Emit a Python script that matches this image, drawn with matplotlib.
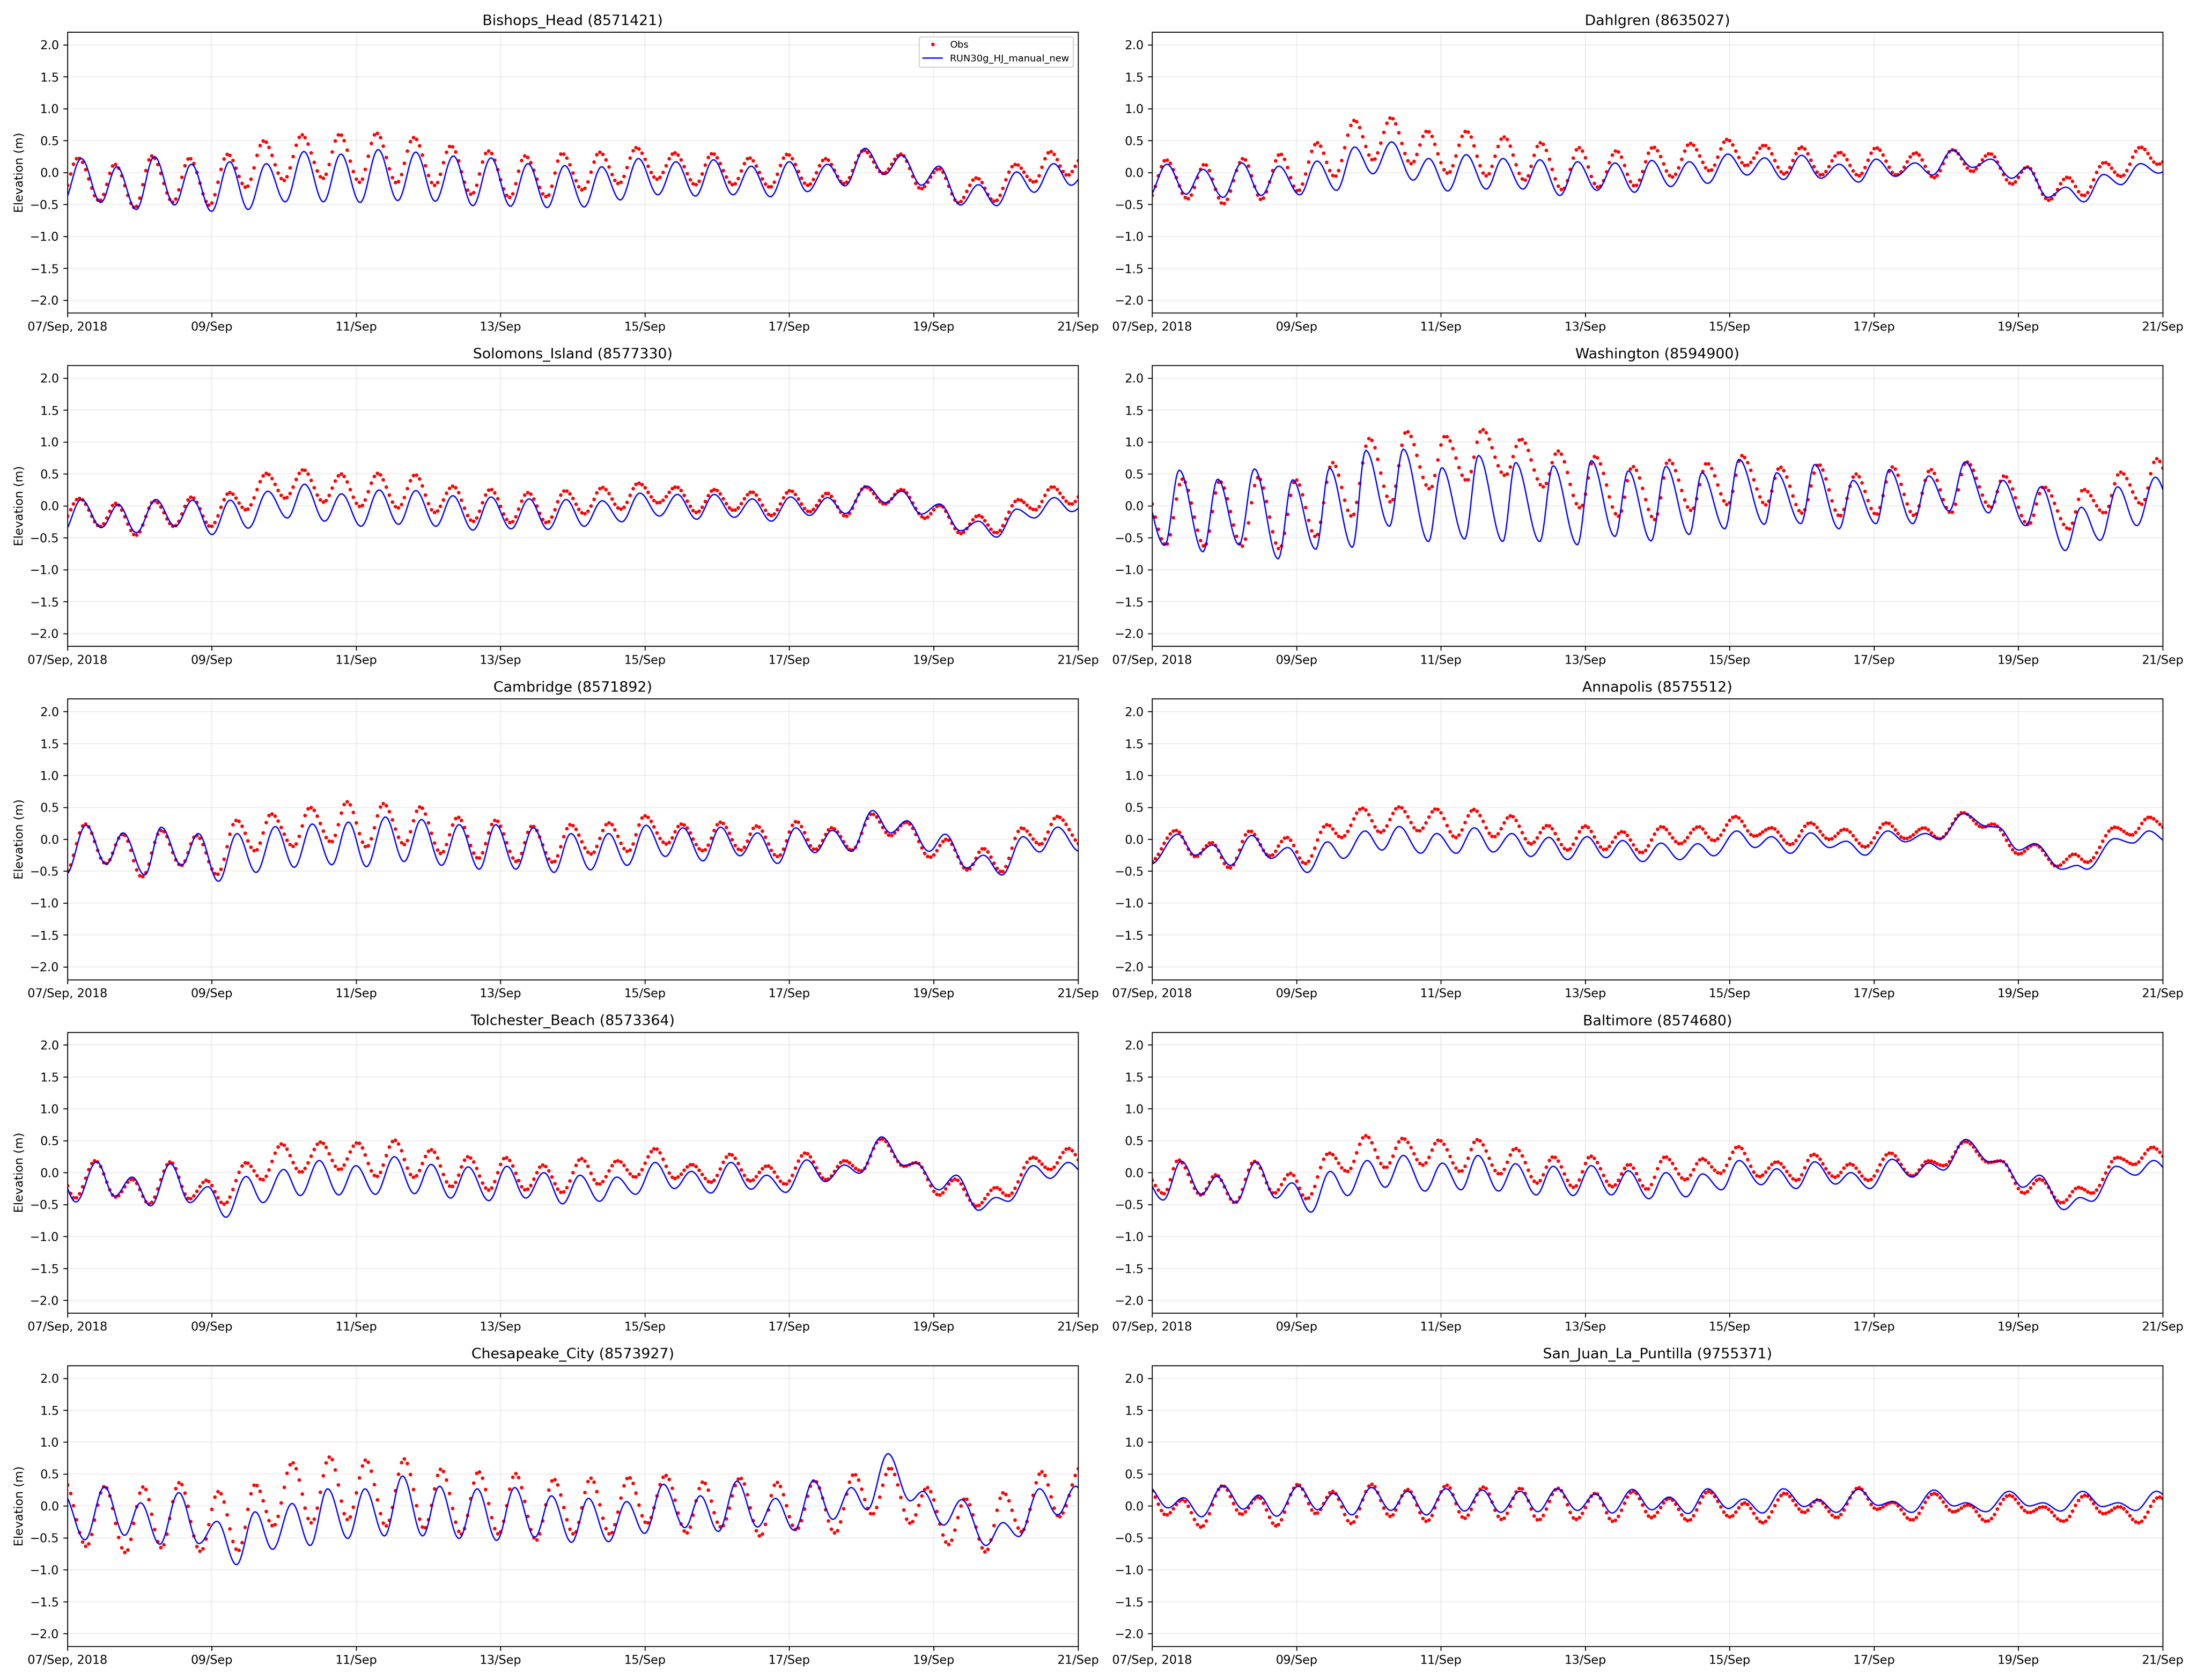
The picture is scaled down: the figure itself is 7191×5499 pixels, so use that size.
import numpy as np
import matplotlib
matplotlib.use("Agg")
import matplotlib.pyplot as plt

# ---------------- data (hours after 07/Sep/2018 00:00, elevation in m) ----------------
# values are the successive high / low water points
stations = ["Bishops_Head (8571421)", "Dahlgren (8635027)", "Solomons_Island (8577330)",
            "Washington (8594900)", "Cambridge (8571892)", "Annapolis (8575512)",
            "Tolchester_Beach (8573364)", "Baltimore (8574680)", "Chesapeake_City (8573927)",
            "San_Juan_La_Puntilla (9755371)"]
series_labels = ["Obs", "RUN30g_HJ_manual_new"]
tick_labels = ["07/Sep, 2018", "09/Sep", "11/Sep", "13/Sep", "15/Sep", "17/Sep", "19/Sep", "21/Sep"]

bh_mod_t = [-1.5, 4.6, 11.1, 16.4, 22.9, 28.9, 35.6, 41.2, 47.9, 53.9, 60.1, 66.1, 72.4, 78.6, 85.1, 90.9, 97.3, 103.3, 109.8, 115.8, 122.3, 128.3, 134.8, 140.8, 147.3, 153.1, 159.5, 165.3, 171.8, 177.6, 183.8, 189.8, 196.3, 202.3, 208.8, 214.8, 221.3, 227.3, 233.7, 240.0, 246.0, 252.7, 258.5, 265.2, 271.7, 277.4, 283.9, 289.7, 296.9, 302.9, 308.9, 315.6, 321.4, 327.9, 333.7, 340.0]
bh_mod_v = [-0.47, 0.22, -0.47, 0.09, -0.58, 0.25, -0.51, 0.13, -0.61, 0.17, -0.58, 0.14, -0.46, 0.33, -0.46, 0.29, -0.47, 0.36, -0.44, 0.32, -0.45, 0.26, -0.52, 0.23, -0.53, 0.14, -0.55, 0.11, -0.54, 0.09, -0.43, 0.22, -0.35, 0.17, -0.37, 0.20, -0.35, 0.10, -0.38, 0.17, -0.30, 0.13, -0.21, 0.38, -0.03, 0.27, -0.20, 0.10, -0.51, -0.19, -0.52, 0.01, -0.31, 0.14, -0.20, 0.10]
bh_obs_t = [-2.5, 3.5, 10.6, 15.7, 22.4, 28.0, 35.1, 40.5, 47.2, 53.2, 59.4, 65.2, 71.9, 77.9, 84.9, 90.4, 97.1, 102.7, 109.4, 115.1, 122.1, 127.4, 134.3, 139.9, 147.0, 152.1, 159.3, 164.4, 171.3, 176.9, 183.3, 189.1, 196.1, 201.8, 208.8, 214.3, 221.3, 226.6, 233.5, 239.3, 246.2, 252.0, 258.2, 264.7, 271.2, 277.0, 283.7, 289.7, 296.2, 302.2, 308.2, 315.1, 321.4, 326.7, 332.5, 338.0]
bh_obs_v = [-0.45, 0.23, -0.44, 0.13, -0.55, 0.26, -0.46, 0.23, -0.51, 0.29, -0.23, 0.50, -0.12, 0.59, -0.09, 0.60, -0.15, 0.62, -0.16, 0.55, -0.20, 0.42, -0.34, 0.34, -0.39, 0.26, -0.38, 0.30, -0.27, 0.32, -0.17, 0.39, -0.10, 0.31, -0.19, 0.30, -0.19, 0.23, -0.23, 0.29, -0.20, 0.22, -0.17, 0.35, -0.01, 0.29, -0.25, 0.06, -0.47, -0.08, -0.45, 0.13, -0.15, 0.33, -0.04, 0.28]

dg_mod_t = [-1.5, 4.9, 11.3, 16.9, 23.6, 29.8, 36.3, 42.1, 49.1, 54.8, 61.3, 67.3, 73.4, 79.6, 86.8, 91.9, 98.3, 104.4, 111.1, 116.6, 123.3, 128.9, 135.6, 141.4, 147.9, 153.9, 160.4, 166.1, 172.4, 178.6, 184.7, 191.4, 197.8, 203.6, 209.9, 215.9, 222.4, 228.4, 234.9, 240.7, 247.1, 253.6, 259.4, 266.1, 272.8, 278.8, 285.8, 290.9, 297.8, 303.8, 309.8, 316.3, 322.1, 328.6, 334.6, 340.6]
dg_mod_v = [-0.40, 0.13, -0.34, 0.05, -0.39, 0.15, -0.36, 0.10, -0.35, 0.18, -0.28, 0.40, -0.02, 0.48, -0.12, 0.22, -0.29, 0.28, -0.26, 0.22, -0.26, 0.20, -0.36, 0.17, -0.28, 0.15, -0.31, 0.19, -0.22, 0.17, -0.17, 0.29, -0.04, 0.23, -0.11, 0.27, -0.09, 0.13, -0.15, 0.21, -0.06, 0.15, -0.04, 0.35, 0.08, 0.21, -0.09, 0.08, -0.39, -0.23, -0.46, -0.03, -0.19, 0.14, -0.01, 0.14]
dg_obs_t = [-1.5, 4.6, 11.8, 17.4, 23.6, 30.3, 36.3, 42.6, 48.4, 54.8, 60.6, 67.3, 73.4, 79.4, 86.1, 91.4, 98.3, 104.4, 111.1, 116.9, 123.8, 129.1, 136.3, 141.8, 148.3, 154.3, 160.4, 166.6, 172.9, 178.9, 185.4, 191.1, 197.4, 203.6, 210.1, 215.9, 222.4, 228.6, 234.9, 240.7, 247.4, 253.8, 259.9, 266.1, 272.6, 278.4, 285.8, 290.9, 298.0, 304.3, 309.6, 316.6, 322.1, 328.6, 334.4, 340.0]
dg_obs_v = [-0.45, 0.20, -0.41, 0.13, -0.49, 0.22, -0.42, 0.29, -0.29, 0.47, -0.06, 0.82, 0.20, 0.86, 0.14, 0.65, -0.01, 0.65, -0.05, 0.56, -0.12, 0.47, -0.27, 0.39, -0.23, 0.34, -0.21, 0.40, -0.07, 0.46, 0.03, 0.52, 0.11, 0.43, -0.02, 0.40, -0.04, 0.32, -0.05, 0.39, -0.04, 0.31, -0.08, 0.36, 0.02, 0.30, -0.18, 0.09, -0.43, -0.07, -0.36, 0.16, -0.06, 0.40, 0.13, 0.35]

si_mod_t = [-1.5, 4.6, 11.3, 16.9, 22.9, 29.4, 35.8, 41.6, 48.1, 54.1, 60.1, 66.6, 73.1, 78.8, 85.5, 91.1, 97.6, 103.6, 110.1, 115.8, 122.5, 128.1, 134.8, 140.8, 147.5, 153.5, 159.8, 165.8, 171.8, 177.8, 184.3, 190.3, 196.8, 202.8, 209.2, 215.0, 221.7, 227.7, 234.0, 240.4, 246.7, 252.7, 258.7, 265.7, 271.9, 277.4, 283.9, 289.9, 296.9, 302.9, 308.9, 315.6, 321.4, 328.1, 333.9, 340.0]
si_mod_v = [-0.42, 0.10, -0.34, 0.02, -0.42, 0.10, -0.32, 0.09, -0.45, 0.09, -0.35, 0.23, -0.19, 0.34, -0.24, 0.19, -0.32, 0.25, -0.29, 0.24, -0.32, 0.16, -0.38, 0.14, -0.36, 0.11, -0.37, 0.10, -0.32, 0.08, -0.25, 0.20, -0.16, 0.18, -0.21, 0.18, -0.18, 0.11, -0.24, 0.14, -0.15, 0.13, -0.12, 0.31, 0.05, 0.23, -0.13, 0.03, -0.39, -0.24, -0.49, -0.05, -0.19, 0.13, -0.09, 0.10]
si_obs_t = [-2.5, 3.9, 10.9, 16.0, 22.7, 28.9, 35.4, 41.2, 47.6, 53.9, 59.4, 66.1, 72.4, 78.4, 85.1, 90.9, 97.3, 103.1, 109.8, 115.6, 122.1, 128.1, 134.8, 140.6, 147.3, 153.1, 159.3, 165.5, 171.8, 177.8, 184.0, 189.8, 196.5, 202.3, 209.2, 215.0, 221.5, 227.5, 234.0, 240.2, 246.7, 252.5, 258.7, 265.2, 271.7, 277.2, 285.1, 289.9, 296.9, 302.9, 308.7, 316.1, 321.6, 327.4, 333.7, 339.0]
si_obs_v = [-0.30, 0.12, -0.32, 0.04, -0.46, 0.08, -0.32, 0.14, -0.32, 0.21, -0.06, 0.51, 0.12, 0.57, 0.06, 0.50, -0.01, 0.51, -0.03, 0.49, -0.10, 0.31, -0.24, 0.26, -0.26, 0.21, -0.26, 0.24, -0.12, 0.29, -0.05, 0.36, 0.05, 0.30, -0.10, 0.26, -0.07, 0.22, -0.15, 0.24, -0.09, 0.20, -0.16, 0.30, 0.03, 0.26, -0.19, 0.01, -0.43, -0.15, -0.42, 0.10, -0.06, 0.30, 0.03, 0.32]

wa_mod_t = [-4.5, 4.2, 9.0, 16.9, 21.8, 28.9, 34.0, 41.9, 46.7, 54.4, 59.0, 66.6, 71.0, 78.9, 83.5, 91.9, 96.3, 103.9, 108.5, 116.6, 120.8, 128.9, 133.3, 141.4, 146.0, 153.9, 158.3, 165.9, 170.8, 178.6, 182.8, 190.4, 195.1, 203.6, 207.6, 215.7, 220.3, 228.4, 233.0, 240.7, 245.1, 252.9, 258.2, 265.0, 270.3, 278.1, 282.8, 290.4, 295.5, 303.6, 308.9, 315.2, 321.0, 327.4, 333.5, 341.0]
wa_mod_v = [0.50, -0.62, 0.56, -0.72, 0.42, -0.61, 0.58, -0.83, 0.41, -0.68, 0.59, -0.65, 0.87, -0.32, 0.89, -0.56, 0.60, -0.52, 0.79, -0.56, 0.68, -0.56, 0.63, -0.61, 0.71, -0.48, 0.55, -0.55, 0.62, -0.45, 0.52, -0.36, 0.73, -0.29, 0.52, -0.28, 0.65, -0.36, 0.40, -0.28, 0.57, -0.28, 0.47, -0.08, 0.69, -0.11, 0.40, -0.31, 0.30, -0.70, -0.02, -0.54, 0.30, -0.31, 0.45, -0.30]
wa_obs_t = [-3.5, 4.6, 10.0, 17.4, 22.4, 29.9, 35.2, 42.3, 47.7, 54.4, 59.9, 66.4, 72.2, 79.4, 84.5, 92.3, 97.4, 104.6, 109.7, 117.3, 122.6, 130.0, 134.9, 142.3, 147.2, 155.0, 159.7, 167.1, 171.7, 179.3, 184.4, 191.4, 196.0, 204.1, 208.7, 216.1, 221.5, 228.6, 233.9, 240.7, 246.0, 253.4, 258.7, 265.6, 270.7, 278.8, 283.2, 291.3, 296.4, 304.8, 309.6, 316.6, 321.9, 329.0, 333.9, 341.0]
wa_obs_v = [0.45, -0.61, 0.42, -0.63, 0.39, -0.63, 0.45, -0.67, 0.41, -0.48, 0.68, -0.16, 1.06, 0.06, 1.17, 0.27, 1.10, 0.40, 1.20, 0.48, 1.05, 0.30, 0.86, -0.03, 0.78, -0.16, 0.62, -0.21, 0.72, -0.07, 0.67, 0.02, 0.79, 0.02, 0.61, -0.11, 0.65, -0.16, 0.50, -0.13, 0.61, -0.15, 0.57, -0.11, 0.69, -0.02, 0.47, -0.29, 0.30, -0.36, 0.26, -0.11, 0.53, 0.03, 0.74, 0.00]

cb_mod_t = [-0.5, 6.2, 12.9, 18.5, 25.7, 31.2, 37.9, 43.5, 50.2, 56.4, 62.7, 69.1, 75.4, 81.4, 87.9, 93.4, 99.4, 105.7, 111.9, 117.7, 124.4, 130.2, 136.9, 142.4, 149.1, 154.9, 161.8, 167.4, 173.9, 179.9, 186.1, 192.4, 198.8, 204.6, 211.3, 217.1, 223.6, 229.4, 236.1, 242.1, 248.5, 254.3, 260.6, 267.7, 273.7, 279.1, 286.5, 291.8, 299.0, 304.5, 310.7, 317.7, 323.2, 329.2, 336.5]
cb_mod_v = [-0.55, 0.22, -0.39, 0.10, -0.56, 0.19, -0.41, 0.09, -0.66, 0.09, -0.52, 0.20, -0.44, 0.24, -0.40, 0.27, -0.43, 0.35, -0.35, 0.31, -0.41, 0.23, -0.47, 0.23, -0.47, 0.18, -0.52, 0.09, -0.48, 0.09, -0.41, 0.22, -0.27, 0.18, -0.34, 0.19, -0.26, 0.10, -0.38, 0.18, -0.21, 0.14, -0.19, 0.45, 0.10, 0.29, -0.19, 0.08, -0.45, -0.25, -0.56, 0.04, -0.20, 0.19, -0.19]
cb_obs_t = [-0.5, 5.8, 12.7, 18.3, 24.7, 31.2, 37.7, 42.8, 49.7, 56.2, 62.4, 67.7, 75.1, 80.7, 87.6, 92.9, 99.4, 105.0, 111.9, 117.2, 124.2, 129.7, 136.6, 142.2, 149.4, 154.4, 161.4, 167.2, 174.1, 179.9, 186.3, 191.9, 199.1, 204.2, 211.3, 217.1, 223.8, 229.1, 236.1, 242.3, 248.5, 254.1, 260.8, 267.5, 273.5, 278.8, 286.7, 292.2, 299.2, 304.5, 310.5, 317.2, 323.4, 329.0, 337.5]
cb_obs_v = [-0.50, 0.24, -0.38, 0.08, -0.59, 0.14, -0.41, 0.06, -0.55, 0.30, -0.18, 0.40, -0.11, 0.50, -0.04, 0.59, -0.12, 0.56, -0.08, 0.51, -0.22, 0.35, -0.30, 0.30, -0.35, 0.21, -0.36, 0.23, -0.23, 0.26, -0.19, 0.37, -0.07, 0.24, -0.18, 0.27, -0.17, 0.21, -0.27, 0.28, -0.16, 0.18, -0.17, 0.40, 0.06, 0.27, -0.28, 0.00, -0.48, -0.14, -0.51, 0.18, -0.08, 0.36, -0.10]

an_mod_t = [-0.5, 8.6, 14.3, 20.1, 26.1, 33.1, 39.6, 45.1, 51.6, 58.3, 63.6, 70.8, 76.4, 82.1, 89.3, 94.6, 101.1, 107.1, 113.4, 119.6, 125.9, 131.9, 138.1, 144.6, 150.9, 156.4, 163.1, 169.2, 175.4, 181.4, 186.7, 194.4, 200.4, 205.9, 212.2, 218.9, 225.2, 230.7, 237.0, 244.6, 250.4, 257.1, 261.7, 269.8, 277.7, 281.2, 288.1, 293.4, 302.4, 307.5, 310.8, 320.0, 326.0, 331.4, 338.0]
an_mod_v = [-0.39, 0.08, -0.25, -0.09, -0.41, 0.06, -0.30, -0.13, -0.52, -0.04, -0.30, 0.13, -0.17, 0.20, -0.22, 0.09, -0.22, 0.18, -0.20, 0.09, -0.27, 0.03, -0.32, 0.04, -0.29, -0.02, -0.35, -0.06, -0.32, -0.07, -0.26, 0.13, -0.13, 0.04, -0.22, 0.10, -0.13, -0.03, -0.25, 0.13, -0.04, 0.09, 0.00, 0.40, 0.20, 0.19, -0.17, -0.07, -0.47, -0.41, -0.47, 0.01, -0.06, 0.13, -0.05]
an_obs_t = [-1.0, 7.9, 14.3, 19.7, 25.7, 32.4, 39.1, 44.7, 50.9, 58.1, 62.9, 69.9, 75.9, 82.1, 88.6, 94.4, 100.9, 106.9, 113.6, 119.2, 125.9, 131.4, 138.1, 143.9, 150.4, 156.2, 162.7, 169.4, 175.4, 181.6, 186.7, 193.9, 200.2, 205.9, 212.2, 218.7, 225.2, 230.2, 237.0, 244.1, 250.4, 256.6, 261.7, 269.6, 276.1, 279.5, 288.1, 293.4, 300.8, 306.6, 310.8, 320.0, 325.6, 331.4, 338.0]
an_obs_v = [-0.36, 0.14, -0.27, -0.05, -0.45, 0.13, -0.26, 0.03, -0.38, 0.23, 0.03, 0.49, 0.11, 0.51, 0.13, 0.48, 0.03, 0.47, 0.04, 0.37, -0.07, 0.22, -0.17, 0.21, -0.16, 0.12, -0.21, 0.20, -0.07, 0.20, -0.02, 0.36, 0.05, 0.18, -0.08, 0.26, 0.00, 0.16, -0.12, 0.26, 0.01, 0.18, 0.01, 0.42, 0.19, 0.24, -0.23, -0.08, -0.42, -0.23, -0.36, 0.19, 0.07, 0.35, 0.15]

tb_mod_t = [-4.0, 2.8, 9.7, 15.7, 21.5, 27.7, 34.2, 40.7, 46.7, 52.7, 59.4, 65.0, 71.9, 77.4, 83.7, 90.2, 95.9, 102.4, 108.7, 115.4, 120.9, 127.4, 133.2, 140.1, 146.1, 152.4, 158.4, 164.6, 170.4, 176.9, 182.6, 188.9, 195.4, 201.8, 207.4, 213.9, 220.6, 227.3, 232.4, 238.8, 245.8, 252.0, 258.3, 263.3, 270.7, 278.1, 282.1, 289.7, 295.5, 302.9, 308.7, 312.8, 321.1, 326.7, 332.7, 339.0]
tb_mod_v = [0.15, -0.46, 0.17, -0.37, -0.07, -0.52, 0.14, -0.47, -0.22, -0.70, -0.06, -0.47, 0.05, -0.36, 0.19, -0.35, 0.11, -0.34, 0.25, -0.33, 0.13, -0.40, 0.09, -0.44, 0.10, -0.40, 0.00, -0.49, -0.04, -0.45, -0.07, -0.34, 0.16, -0.25, 0.02, -0.32, 0.16, -0.26, -0.04, -0.31, 0.20, -0.14, 0.12, -0.01, 0.56, 0.11, 0.15, -0.27, -0.04, -0.59, -0.39, -0.45, 0.11, -0.09, 0.16, -0.05]
tb_obs_t = [-4.0, 2.5, 9.2, 16.0, 21.5, 27.1, 34.2, 40.5, 46.2, 52.0, 59.4, 64.7, 71.2, 77.5, 84.2, 90.4, 96.4, 102.7, 108.7, 115.1, 120.9, 127.6, 133.2, 140.1, 145.7, 152.4, 158.1, 164.4, 170.9, 176.6, 182.9, 188.7, 195.4, 201.8, 207.6, 213.9, 220.3, 227.0, 232.6, 238.6, 245.3, 252.2, 258.3, 263.8, 270.5, 278.1, 282.1, 289.7, 295.0, 302.2, 308.7, 312.6, 320.9, 326.7, 332.7, 339.0]
tb_obs_v = [0.20, -0.40, 0.19, -0.38, -0.10, -0.49, 0.17, -0.41, -0.12, -0.49, 0.16, -0.11, 0.45, 0.01, 0.48, 0.05, 0.47, -0.06, 0.51, -0.07, 0.36, -0.22, 0.25, -0.27, 0.24, -0.27, 0.12, -0.31, 0.22, -0.18, 0.19, -0.07, 0.38, -0.09, 0.13, -0.15, 0.29, -0.13, 0.11, -0.18, 0.31, -0.11, 0.19, 0.03, 0.53, 0.10, 0.16, -0.35, -0.10, -0.52, -0.23, -0.36, 0.24, 0.05, 0.38, 0.05]

ba_mod_t = [-5.0, 3.7, 9.7, 16.4, 21.5, 27.8, 34.5, 41.2, 46.5, 52.8, 59.2, 65.0, 71.5, 77.5, 83.5, 90.7, 96.5, 102.7, 108.3, 115.2, 120.8, 127.7, 133.3, 140.0, 146.0, 152.7, 158.3, 165.2, 170.8, 177.5, 183.0, 189.3, 195.1, 202.5, 207.6, 214.1, 220.3, 227.2, 232.3, 238.6, 246.0, 252.7, 258.2, 263.1, 270.5, 278.4, 282.3, 289.5, 295.0, 303.1, 308.5, 312.4, 320.5, 326.9, 333.0, 339.5]
ba_mod_v = [0.15, -0.43, 0.18, -0.34, -0.06, -0.47, 0.17, -0.40, -0.16, -0.62, 0.02, -0.36, 0.19, -0.23, 0.27, -0.29, 0.15, -0.27, 0.27, -0.29, 0.14, -0.35, 0.10, -0.36, 0.11, -0.35, 0.03, -0.41, 0.00, -0.38, -0.02, -0.27, 0.19, -0.19, 0.06, -0.25, 0.17, -0.18, 0.00, -0.25, 0.21, -0.07, 0.15, 0.04, 0.52, 0.17, 0.18, -0.23, -0.04, -0.58, -0.39, -0.45, 0.10, -0.04, 0.19, -0.05]
ba_obs_t = [-4.0, 3.9, 8.6, 16.2, 21.1, 27.5, 34.0, 40.5, 46.0, 51.4, 58.8, 64.8, 71.0, 77.5, 83.3, 90.0, 95.3, 102.5, 108.1, 115.5, 120.8, 128.0, 133.3, 140.2, 145.8, 153.0, 158.5, 164.5, 170.5, 177.3, 182.8, 188.8, 194.8, 201.8, 207.6, 214.3, 219.8, 227.0, 231.9, 238.1, 245.3, 252.7, 258.0, 263.1, 270.3, 278.1, 282.1, 289.9, 295.0, 302.4, 308.0, 312.4, 320.9, 326.5, 332.5, 339.0]
ba_obs_v = [0.10, -0.33, 0.20, -0.35, -0.03, -0.47, 0.18, -0.32, -0.01, -0.41, 0.31, 0.02, 0.58, 0.08, 0.54, 0.12, 0.51, 0.02, 0.52, -0.02, 0.38, -0.16, 0.25, -0.23, 0.26, -0.22, 0.13, -0.26, 0.25, -0.11, 0.22, -0.01, 0.41, -0.06, 0.17, -0.12, 0.29, -0.07, 0.14, -0.12, 0.31, -0.05, 0.19, 0.11, 0.49, 0.16, 0.19, -0.32, -0.10, -0.47, -0.23, -0.32, 0.24, 0.13, 0.40, 0.15]

cc_mod_t = [-1.5, 5.8, 12.3, 19.0, 24.3, 30.7, 37.0, 43.7, 49.7, 56.2, 62.4, 68.2, 74.7, 80.7, 86.5, 93.2, 98.9, 105.4, 111.4, 118.1, 123.7, 130.2, 136.2, 142.7, 148.7, 155.4, 160.9, 167.6, 173.2, 179.9, 185.9, 191.9, 198.1, 205.3, 210.4, 216.4, 222.6, 229.4, 235.4, 241.6, 248.1, 254.5, 260.6, 265.9, 272.8, 280.2, 284.4, 291.3, 297.3, 305.4, 311.0, 316.3, 323.2, 329.2, 335.2, 342.0]
cc_mod_v = [0.20, -0.53, 0.30, -0.46, 0.05, -0.60, 0.21, -0.59, -0.24, -0.92, -0.09, -0.68, 0.04, -0.62, 0.27, -0.51, 0.27, -0.47, 0.47, -0.47, 0.31, -0.51, 0.27, -0.54, 0.29, -0.49, 0.16, -0.57, 0.12, -0.56, 0.07, -0.43, 0.34, -0.34, 0.16, -0.40, 0.39, -0.33, 0.12, -0.38, 0.40, -0.21, 0.29, -0.06, 0.82, 0.08, 0.23, -0.30, 0.10, -0.62, -0.26, -0.48, 0.27, -0.14, 0.31, -0.30]
cc_obs_t = [-1.0, 6.2, 12.3, 19.2, 25.2, 31.2, 37.2, 44.2, 50.2, 56.7, 62.4, 68.4, 74.7, 81.1, 87.2, 93.2, 99.2, 105.9, 111.9, 118.6, 124.2, 130.9, 136.6, 143.3, 148.9, 155.8, 161.6, 168.3, 173.9, 180.3, 186.6, 192.6, 198.8, 205.8, 211.3, 217.3, 223.6, 230.3, 235.8, 242.3, 248.3, 255.2, 261.5, 267.5, 273.5, 280.2, 285.8, 292.9, 298.5, 305.2, 311.2, 317.2, 323.9, 329.7, 337.0]
cc_obs_v = [0.38, -0.63, 0.31, -0.73, 0.30, -0.65, 0.37, -0.71, 0.23, -0.70, 0.34, -0.31, 0.68, -0.26, 0.77, -0.21, 0.72, -0.31, 0.74, -0.35, 0.58, -0.44, 0.54, -0.44, 0.51, -0.53, 0.42, -0.44, 0.44, -0.44, 0.45, -0.27, 0.48, -0.42, 0.38, -0.33, 0.44, -0.47, 0.37, -0.37, 0.40, -0.42, 0.50, -0.13, 0.60, -0.27, 0.29, -0.60, 0.12, -0.72, 0.21, -0.40, 0.54, -0.17, 0.62]

sj_mod_t = [-1.5, 5.3, 10.4, 16.4, 23.6, 30.3, 35.4, 41.4, 48.6, 55.1, 60.4, 66.4, 72.9, 79.4, 84.9, 91.2, 97.7, 103.9, 109.7, 115.9, 122.4, 128.2, 134.7, 141.4, 147.4, 152.9, 159.7, 166.1, 171.9, 178.2, 184.7, 191.6, 196.7, 202.9, 209.9, 216.8, 221.4, 227.5, 234.9, 241.3, 246.2, 252.5, 259.9, 266.6, 270.5, 277.2, 284.9, 291.6, 296.2, 302.0, 309.4, 315.9, 321.2, 327.0, 333.9, 341.0]
sj_mod_v = [0.31, -0.03, 0.13, -0.17, 0.32, -0.05, 0.17, -0.16, 0.31, -0.06, 0.20, -0.14, 0.29, -0.07, 0.23, -0.14, 0.27, -0.08, 0.25, -0.10, 0.23, -0.09, 0.27, -0.07, 0.19, -0.11, 0.26, -0.06, 0.14, -0.12, 0.27, -0.04, 0.11, -0.11, 0.27, -0.01, 0.10, -0.10, 0.26, 0.01, 0.07, -0.10, 0.25, 0.00, 0.05, -0.09, 0.23, 0.00, 0.05, -0.08, 0.23, -0.01, 0.05, -0.07, 0.23, -0.02]
sj_obs_t = [-1.5, 4.6, 10.0, 16.2, 23.4, 29.6, 35.2, 41.2, 48.4, 54.4, 59.9, 66.2, 72.9, 79.1, 84.9, 91.2, 97.9, 103.7, 110.1, 116.2, 122.4, 128.4, 134.9, 140.9, 147.4, 153.2, 159.9, 165.9, 171.9, 178.2, 184.9, 192.1, 196.9, 202.9, 210.3, 216.8, 221.2, 227.5, 234.9, 240.9, 246.2, 252.5, 259.9, 266.4, 271.4, 277.4, 284.9, 291.4, 296.2, 302.9, 310.1, 316.3, 321.6, 327.9, 334.8, 341.0]
sj_obs_v = [0.30, -0.14, 0.10, -0.33, 0.32, -0.13, 0.14, -0.31, 0.34, -0.12, 0.23, -0.27, 0.34, -0.16, 0.26, -0.24, 0.33, -0.19, 0.30, -0.21, 0.28, -0.22, 0.28, -0.21, 0.20, -0.24, 0.23, -0.18, 0.12, -0.23, 0.23, -0.17, 0.05, -0.26, 0.20, -0.10, 0.10, -0.18, 0.29, -0.05, 0.06, -0.22, 0.20, -0.09, 0.02, -0.24, 0.17, -0.10, -0.01, -0.24, 0.17, -0.12, -0.01, -0.26, 0.14, -0.10]

panel_data = [
    (bh_obs_t, bh_obs_v, bh_mod_t, bh_mod_v),
    (dg_obs_t, dg_obs_v, dg_mod_t, dg_mod_v),
    (si_obs_t, si_obs_v, si_mod_t, si_mod_v),
    (wa_obs_t, wa_obs_v, wa_mod_t, wa_mod_v),
    (cb_obs_t, cb_obs_v, cb_mod_t, cb_mod_v),
    (an_obs_t, an_obs_v, an_mod_t, an_mod_v),
    (tb_obs_t, tb_obs_v, tb_mod_t, tb_mod_v),
    (ba_obs_t, ba_obs_v, ba_mod_t, ba_mod_v),
    (cc_obs_t, cc_obs_v, cc_mod_t, cc_mod_v),
    (sj_obs_t, sj_obs_v, sj_mod_t, sj_mod_v),
]


def tide_curve(tq, te, ve):
    """Smooth half-cosine swing between the successive read high/low points."""
    n = min(len(te), len(ve))
    te = np.asarray(te[:n], float)
    ve = np.asarray(ve[:n], float)
    i = np.clip(np.searchsorted(te, tq, side="right") - 1, 0, n - 2)
    f = np.clip((tq - te[i]) / (te[i + 1] - te[i]), 0.0, 1.0)
    return ve[i] + (ve[i + 1] - ve[i]) * (1.0 - np.cos(np.pi * f)) / 2.0


start = np.datetime64("2018-09-07T00:00")
end = np.datetime64("2018-09-21T00:00")
obs_hours = np.arange(0, 337, 1.0)
mod_hours = np.arange(0, 336.01, 0.5)


def to_dates(hours):
    return start + (np.asarray(hours) * 60).astype("timedelta64[m]")


tick_dates = start + np.arange(0, 15, 2).astype("timedelta64[D]")

DPI = 282
fig, axes = plt.subplots(5, 2, figsize=(25.5, 19.5), dpi=DPI)
fig.subplots_adjust(left=0.0307, right=0.9844, bottom=0.0200, top=0.9809,
                    wspace=0.0733, hspace=0.187)

for k, ax in enumerate(axes.flat):
    ot, ov, mt, mv = panel_data[k]
    ax.plot(to_dates(obs_hours), tide_curve(obs_hours, ot, ov), linestyle="none",
            marker="o", ms=3.0, mew=0, color="red", label=series_labels[0])
    ax.plot(to_dates(mod_hours), tide_curve(mod_hours, mt, mv), "-", color="blue",
            lw=1.1, label=series_labels[1])
    ax.set_xlim(start, end)
    ax.set_ylim(-2.2, 2.2)
    ax.set_yticks(np.arange(-2.0, 2.01, 0.5))
    ax.set_xticks(tick_dates)
    ax.set_xticklabels(tick_labels)
    ax.grid(True, color="#b0b0b0", alpha=0.2, linewidth=0.9)
    ax.set_axisbelow(True)
    ax.set_title(stations[k], fontsize=12)
    if k % 2 == 0:
        ax.set_ylabel("Elevation (m)")
    if k == 0:
        ax.legend(loc="upper right", fontsize=8, numpoints=1)

fig.savefig("out.png", dpi=DPI)
